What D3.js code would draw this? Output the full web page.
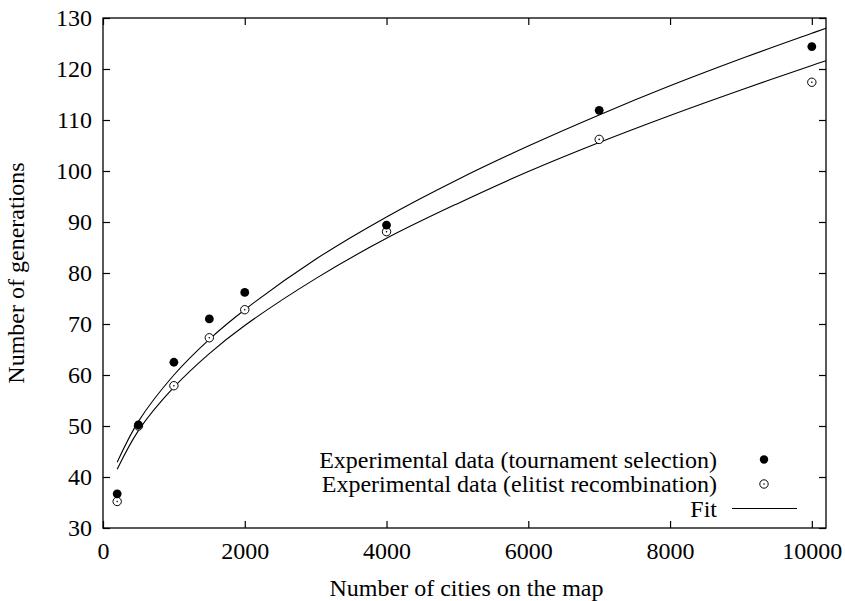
<!DOCTYPE html>
<html>
<head>
<meta charset="utf-8">
<script src="https://cdn.jsdelivr.net/npm/d3@7"></script>
<style>
  html, body { margin: 0; padding: 0; background: #fff; }
  svg text { font-family: "Liberation Serif", "Times New Roman", serif; fill: #000; }
</style>
</head>
<body>
<svg id="chart" width="845" height="601"></svg>
<script>
// ---- data ----
const cities = [200, 500, 1000, 1500, 2000, 4000, 7000, 10000];
const tournament = [36.7, 50.2, 62.5, 71.0, 76.2, 89.4, 111.9, 124.4];
const elitist = [35.2, 50.0, 57.9, 67.3, 72.8, 88.1, 106.2, 117.4];

// fit curves
const fitX = [200, 500, 1000, 1500, 2000, 3000, 4000, 5000, 6000, 7000, 8000, 9000, 10000, 10200];
const fitTournament = [42.9, 50.9, 60.0, 67.0, 72.8, 82.7, 91.0, 98.3, 104.9, 111.0, 116.7, 122.0, 127.0, 128.0];
const fitElitist = [41.5, 49.1, 57.6, 64.2, 69.7, 78.9, 86.8, 93.6, 99.9, 105.6, 110.9, 115.9, 120.7, 121.6];

const xTicks = [0, 2000, 4000, 6000, 8000, 10000];
const yTicks = [30, 40, 50, 60, 70, 80, 90, 100, 110, 120, 130];

const legendLabels = [
  "Experimental data (tournament selection)",
  "Experimental data (elitist recombination)",
  "Fit"
];

// ---- layout ----
const L = 103, R = 826, T = 18, B = 528;
const svg = d3.select("#chart");
const x = d3.scaleLinear().domain([0, 10200]).range([L, R]);
const y = d3.scaleLinear().domain([30, 130]).range([B, T]);
const FS = 24;
const tickLen = 7;

// axes with inward ticks, mirrored
const axB = svg.append("g").attr("transform", `translate(0,${B})`)
  .call(d3.axisBottom(x).tickValues(xTicks).tickSizeInner(-tickLen).tickSizeOuter(0).tickPadding(14).tickFormat(d3.format("d")));
const axT = svg.append("g").attr("transform", `translate(0,${T})`)
  .call(d3.axisTop(x).tickValues(xTicks).tickSizeInner(-tickLen).tickSizeOuter(0).tickFormat(""));
const axLft = svg.append("g").attr("transform", `translate(${L},0)`)
  .call(d3.axisLeft(y).tickValues(yTicks).tickSizeInner(-tickLen).tickSizeOuter(0).tickPadding(11).tickFormat(d3.format("d")));
const axRgt = svg.append("g").attr("transform", `translate(${R},0)`)
  .call(d3.axisRight(y).tickValues(yTicks).tickSizeInner(-tickLen).tickSizeOuter(0).tickFormat(""));

[axB, axT, axLft, axRgt].forEach(g => {
  g.select(".domain").remove();
  g.selectAll(".tick line").attr("stroke", "#000").attr("stroke-width", 1.2);
  g.selectAll("text").style("font-size", FS + "px").attr("font-family", "Liberation Serif");
});
axB.selectAll(".tick text").attr("dy", "0.71em");

// frame
svg.append("rect").attr("x", L).attr("y", T).attr("width", R - L).attr("height", B - T)
  .attr("fill", "none").attr("stroke", "#000").attr("stroke-width", 1.3);

// fit lines
const line = d3.line().x(d => x(d[0])).y(d => y(d[1])).curve(d3.curveCatmullRom.alpha(0.5));
[fitTournament, fitElitist].forEach(vals => {
  svg.append("path").datum(fitX.map((v, i) => [v, vals[i]]))
    .attr("d", line).attr("fill", "none").attr("stroke", "#000").attr("stroke-width", 1.1);
});

// points
function openCircle(g, cx, cy) {
  g.append("circle").attr("cx", cx).attr("cy", cy).attr("r", 4.2)
    .attr("fill", "#fff").attr("stroke", "#000").attr("stroke-width", 1);
  g.append("circle").attr("cx", cx).attr("cy", cy).attr("r", 0.8).attr("fill", "#000");
}
const pts = svg.append("g");
cities.forEach((c, i) => openCircle(pts, x(c), y(elitist[i])));
pts.selectAll("circle.t").data(cities).enter().append("circle").attr("class", "t")
  .attr("cx", d => x(d)).attr("cy", (d, i) => y(tournament[i])).attr("r", 4.4).attr("fill", "#000");

// legend
const legTextX = 717, legSymX = 764, legY = [459.5, 484, 508.5];
legendLabels.forEach((lab, i) => {
  svg.append("text").attr("x", legTextX).attr("y", legY[i]).attr("dy", "0.35em")
    .attr("text-anchor", "end").style("font-size", FS + "px").text(lab);
});
svg.append("circle").attr("cx", legSymX).attr("cy", legY[0]).attr("r", 4.2).attr("fill", "#000");
openCircle(svg, legSymX, legY[1]);
svg.append("line").attr("x1", 732).attr("x2", 797).attr("y1", legY[2]).attr("y2", legY[2])
  .attr("stroke", "#000").attr("stroke-width", 1.1);

// axis titles
svg.append("text").attr("x", (L + R) / 2 + 2).attr("y", 596).attr("text-anchor", "middle")
  .style("font-size", FS + "px").text("Number of cities on the map");
svg.append("text").attr("transform", `translate(24,${(T + B) / 2}) rotate(-90)`)
  .attr("text-anchor", "middle").style("font-size", FS + "px").text("Number of generations");
</script>
</body>
</html>
